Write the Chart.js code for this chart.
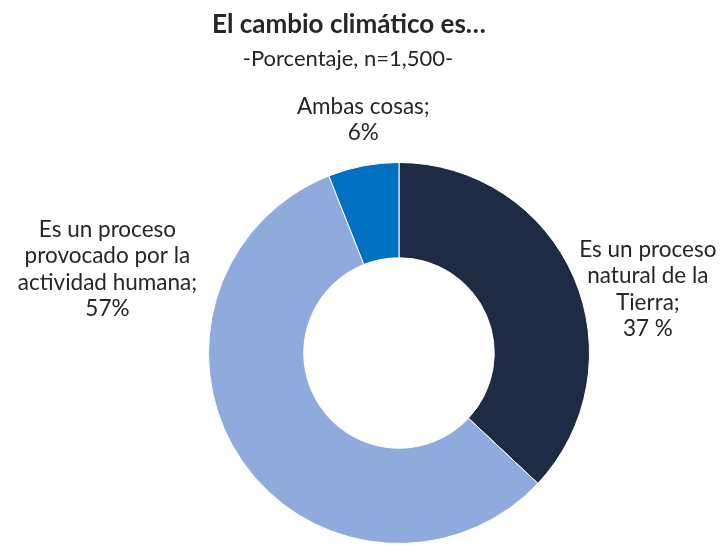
<!DOCTYPE html>
<html>
<head>
<meta charset="utf-8">
<script src="https://cdn.jsdelivr.net/npm/chart.js@4"></script>
<style>
  html, body { margin: 0; padding: 0; background: #fff; }
  #wrap { width: 721px; height: 546px; position: relative; }
</style>
</head>
<body>
<div id="wrap"><canvas id="dataViz"></canvas></div>
<script>
var categories = ['Es un proceso natural de la Tierra', 'Es un proceso provocado por la actividad humana', 'Ambas cosas'];
var percentages = [37, 57, 6];
var valueLabels = ['37 %', '57%', '6%'];
var labelLines = [
    ['Es un proceso', 'natural de la', 'Tierra;'],
    ['Es un proceso', 'provocado por la', 'actividad humana;'],
    ['Ambas cosas;']
];
var sliceColors = ['#1f2a44', '#8faadc', '#0070c0'];

// label offset from the outer edge point at each slice's mid angle
var labelOffsets = [[74, 12], [-134, -191], [0, -46]];

var titleText = 'El cambio climático es…';
var subtitleText = '-Porcentaje, n=1,500-';

var textPlugin = {
    id: 'textPlugin',
    afterDraw: function(chart) {
        var c = chart.ctx;
        c.save();
        c.fillStyle = '#262626';
        c.textAlign = 'center';
        c.textBaseline = 'middle';
        c.font = 'bold 26px Lato';
        c.fillText(titleText, 349, 25);
        c.font = '22px Lato';
        c.fillText(subtitleText, 348, 59);

        var meta = chart.getDatasetMeta(0);
        c.font = '22.5px Lato';
        meta.data.forEach(function(arc, i) {
            var p = arc.getProps(['x', 'y', 'startAngle', 'endAngle', 'outerRadius'], true);
            var mid = (p.startAngle + p.endAngle) / 2;
            var ax = p.x + Math.cos(mid) * p.outerRadius + labelOffsets[i][0];
            var ay = p.y + Math.sin(mid) * p.outerRadius + labelOffsets[i][1];
            var lines = labelLines[i].concat([valueLabels[i]]);
            var lh = 26.5;
            var top = ay - (lines.length - 1) * lh / 2;
            lines.forEach(function(t, k) {
                c.fillText(t, ax, top + k * lh);
            });
        });
        c.restore();
    }
};

var ctx = document.getElementById('dataViz');
var myChart = new Chart(ctx, {
    type: 'doughnut',
    data: {
        labels: categories,
        datasets: [{
            data: percentages,
            backgroundColor: sliceColors,
            borderColor: '#ffffff',
            borderWidth: 1
        }]
    },
    options: {
        responsive: true,
        maintainAspectRatio: false,
        animation: false,
        cutout: '50%',
        layout: {
            padding: { top: 162, bottom: 2, left: 208, right: 131 }
        },
        plugins: {
            legend: { display: false },
            tooltip: { enabled: false }
        }
    },
    plugins: [textPlugin]
});
</script>
</body>
</html>
